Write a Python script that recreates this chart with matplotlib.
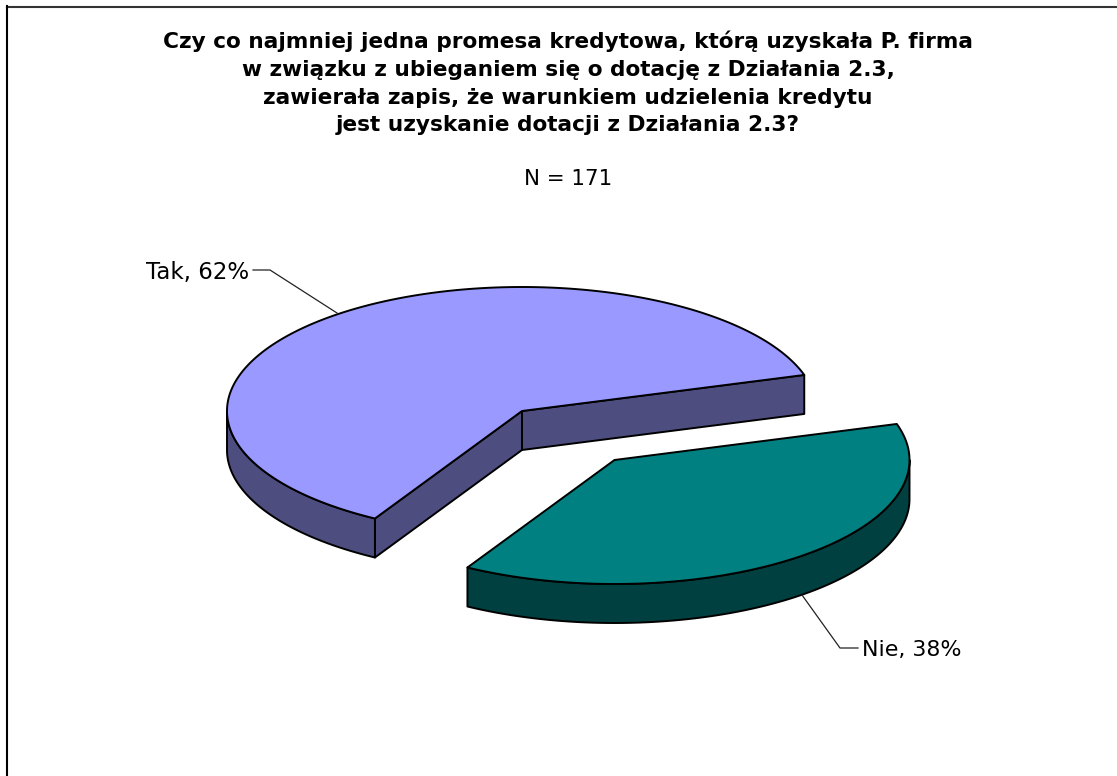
import matplotlib
matplotlib.use('Agg')
import matplotlib.pyplot as plt
from matplotlib.patches import Polygon
import numpy as np

title = ('Czy co najmniej jedna promesa kredytowa, którą uzyskała P. firma\n'
         'w związku z ubieganiem się o dotację z Działania 2.3,\n'
         'zawierała zapis, że warunkiem udzielenia kredytu\n'
         'jest uzyskanie dotacji z Działania 2.3?')
subtitle = 'N = 171'
categories = ['Tak', 'Nie']
values = [62, 38]
top_colors = ['#9999ff', '#008080']
side_colors = ['#4d4d80', '#004040']

start_angle = 16.9
rx, ry, depth = 295, 124, 39
centers = [(522, 411), (614.5, 460)]


def arc(c, a0, a1, drop=0):
    t = np.radians(np.linspace(a0, a1, 300))
    return np.column_stack([c[0] + rx * np.cos(t), c[1] - ry * np.sin(t) + drop])


def point(c, a):
    t = np.radians(a)
    return np.array([c[0] + rx * np.cos(t), c[1] - ry * np.sin(t)])


def draw_side(ax, pts, color):
    ax.add_patch(Polygon(pts, closed=True, fc=color, ec='black', lw=1.4, joinstyle='round'))


fig = plt.figure(figsize=(11.17, 7.76), dpi=100)
ax = fig.add_axes([0, 0, 1, 1])
ax.set_xlim(0, 1117)
ax.set_ylim(776, 0)
ax.axis('off')

# chart border, only top and left are visible in the crop
ax.plot([7, 1117], [6.5, 6.5], color='#333333', lw=1.5)
ax.plot([7, 7], [776, 6], color='black', lw=1.5)

angles = start_angle + np.cumsum([0] + [v * 3.6 for v in values])
for c, a0, a1, top, side in zip(centers, angles[:-1], angles[1:], top_colors, side_colors):
    if a1 < 360:
        # first slice: both cut faces show, rim runs along the lower left edge
        for a in (a0, a1):
            p = point(c, a)
            draw_side(ax, [c, p, p + [0, depth], (c[0], c[1] + depth)], side)
        draw_side(ax, np.vstack([arc(c, 180, a1), arc(c, a1, 180, depth)]), side)
    else:
        draw_side(ax, np.vstack([arc(c, a0, 360), arc(c, 360, a0, depth)]), side)
    ax.add_patch(Polygon(np.vstack([[c], arc(c, a0, a1)]), closed=True, fc=top,
                         ec='black', lw=1.4, joinstyle='round'))

ax.text(568, 83, title, ha='center', va='center', fontsize=15.6, fontweight='bold',
        color='black', linespacing=1.48)
ax.text(568, 179, subtitle, ha='center', va='center', fontsize=15.4, color='black')

labels = [f'{c}, {v}%' for c, v in zip(categories, values)]
ax.text(249, 272, labels[0], ha='right', va='center', fontsize=16.5)
ax.plot([253, 270, 337], [270, 270, 313], color='#222222', lw=0.9)
ax.text(862, 650, labels[1], ha='left', va='center', fontsize=15.9)
ax.plot([858, 840, 802], [648, 648, 595], color='#222222', lw=0.9)

fig.savefig('out.png', dpi=100)
